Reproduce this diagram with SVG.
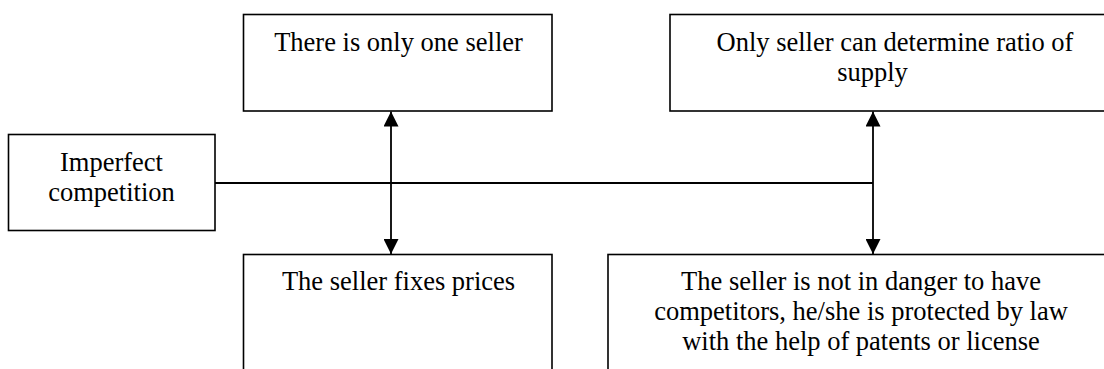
<svg xmlns="http://www.w3.org/2000/svg" width="1104" height="369" viewBox="0 0 1104 369">
<style>
.box{fill:#fff;stroke:#000;stroke-width:1.6}
.t{font-family:"Liberation Serif","Times New Roman",serif;font-size:26.5px;fill:#000;text-anchor:middle}
.c{stroke:#000;stroke-width:1.8;fill:none}
</style>
<defs>
<marker id="ah" viewBox="0 0 10 10" refX="10" refY="5" markerWidth="15" markerHeight="15" markerUnits="userSpaceOnUse" orient="auto-start-reverse">
<path d="M0,0 L10,5 L0,10 Z" fill="#000"/>
</marker>
</defs>
<rect width="1104" height="369" fill="#fff"/>
<g id="node-one-seller">
<rect class="box" x="243.5" y="14.5" width="308.5" height="96.5"/>
<text class="t" x="398.5" y="51">There is only one seller</text>
</g>
<g id="node-ratio-supply">
<rect class="box" x="670" y="14.5" width="500" height="96.5"/>
<text class="t" x="895" y="51">Only seller can determine ratio of</text>
<text class="t" x="872.5" y="81">supply</text>
</g>
<g id="node-imperfect">
<rect class="box" x="8.5" y="134.5" width="206.5" height="96"/>
<text class="t" x="111.5" y="170.5">Imperfect</text>
<text class="t" x="111.5" y="200.5">competition</text>
</g>
<g id="node-fixes-prices">
<rect class="box" x="243.5" y="254.5" width="308.5" height="200"/>
<text class="t" x="398.5" y="289.5">The seller fixes prices</text>
</g>
<g id="node-protected">
<rect class="box" x="608" y="254.5" width="600" height="200"/>
<text class="t" x="861" y="290">The seller is not in danger to have</text>
<text class="t" x="861" y="320">competitors, he/she is protected by law</text>
<text class="t" x="861" y="350">with the help of patents or license</text>
</g>
<g id="connectors">
<line class="c" x1="215" y1="183" x2="873" y2="183"/>
<line class="c" x1="391" y1="111.5" x2="391" y2="254" marker-start="url(#ah)" marker-end="url(#ah)"/>
<line class="c" x1="873" y1="111.5" x2="873" y2="254" marker-start="url(#ah)" marker-end="url(#ah)"/>
</g>
</svg>
